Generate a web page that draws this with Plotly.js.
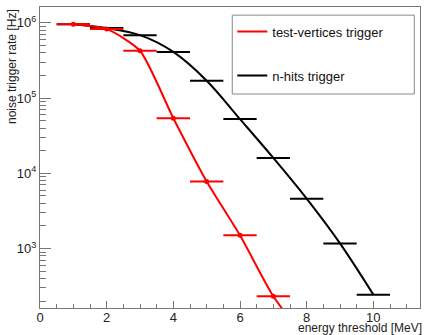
<!DOCTYPE html>
<html><head><meta charset="utf-8">
<script src="https://cdn.plot.ly/plotly-3.0.1.min.js"></script>
<style>body{margin:0;background:#fff}#c{width:424px;height:335px}</style>
</head><body><div id="c"></div>
<script>
// data
const tvX = [1,2,3,4,5,6,7,8];
const tvRate = [9.6e5, 8.3e5, 4.25e5, 5.4e4, 7.8e3, 1.5e3, 232, 60];
const nhX = [1,2,3,4,5,6,7,8,9,10];
const nhRate = [9.6e5, 8.5e5, 6.85e5, 4.1e5, 1.7e5, 5.25e4, 1.6e4, 4.6e3, 1.17e3, 244];
const binHalfWidth = 0.5;
const seriesNames = ["test-vertices trigger", "n-hits trigger"];
const yTickVals = [1e3, 1e4, 1e5, 1e6];
const yTickText = ["10<sup>3</sup>", "10<sup>4</sup>", "10<sup>5</sup>", "10<sup>6</sup>"];

const font = "Liberation Sans, Arial, sans-serif";
const traces = [
  {x: nhX, y: nhRate, mode: 'lines', name: seriesNames[1], showlegend: false,
   line: {color: '#000', width: 2, shape: 'spline', smoothing: 1},
   error_x: {type: 'constant', value: binHalfWidth, width: 0, thickness: 2, color: '#000'}},
  {x: tvX, y: tvRate, mode: 'lines+markers', name: seriesNames[0], showlegend: false,
   line: {color: '#ff0000', width: 2, shape: 'spline', smoothing: 0.6},
   marker: {color: '#ff0000', size: 5},
   error_x: {type: 'constant', value: binHalfWidth, width: 0, thickness: 2, color: '#ff0000'}},
  {x: [null], y: [null], mode: 'lines', name: seriesNames[0], legendgroup: 'a',
   line: {color: '#ff0000', width: 2}},
  {x: [null], y: [null], mode: 'lines', name: seriesNames[1], legendgroup: 'b',
   line: {color: '#000', width: 2}}
];
const layout = {
  width: 424, height: 335,
  margin: {l: 40, r: 4, t: 7, b: 27},
  paper_bgcolor: '#fff', plot_bgcolor: '#fff',
  font: {family: font, size: 12, color: '#222'},
  showlegend: true,
  legend: {x: 0.506, y: 0.968, xanchor: 'left', yanchor: 'top',
    borderwidth: 0, bgcolor: 'rgba(0,0,0,0)',
    font: {family: font, size: 13, color: '#111'},
    traceorder: 'grouped', tracegroupgap: 24},
  shapes: [
    {type: 'rect', xref: 'paper', yref: 'paper', x0: 0.506, x1: 0.985, y0: 0.711, y1: 0.973,
     line: {color: '#888', width: 1}, fillcolor: '#fff', layer: 'above'}
  ],
  xaxis: {range: [0, 11.4], showgrid: false, zeroline: false,
    showline: true, linecolor: '#777', linewidth: 1, mirror: true,
    ticks: 'inside', ticklen: 7, tickcolor: '#777', dtick: 2, tick0: 0,
    ticklabelstandoff: -3,
    minor: {ticks: 'inside', ticklen: 4, dtick: 0.5, tickcolor: '#777'},
    tickfont: {size: 13, color: '#222'}},
  yaxis: {type: 'log', range: [2.21, 6.21], showgrid: false, zeroline: false,
    showline: true, linecolor: '#777', linewidth: 1, mirror: true,
    ticks: 'inside', ticklen: 11, tickcolor: '#777',
    tickmode: 'array', tickvals: yTickVals, ticktext: yTickText,
    minor: {ticks: 'inside', ticklen: 6, dtick: 'D1', tickcolor: '#777'},
    tickfont: {size: 13, color: '#222'}},
  annotations: [
    {text: 'energy threshold [MeV]', xref: 'paper', yref: 'paper', x: 1.01, y: -0.066,
     xanchor: 'right', yanchor: 'middle', showarrow: false, font: {size: 12, color: '#222'}},
    {text: 'noise trigger rate [Hz]', xref: 'paper', yref: 'paper', x: -0.075, y: 1.0,
     xanchor: 'center', yanchor: 'top', textangle: -90, showarrow: false, font: {size: 12, color: '#222'}}
  ]
};
Plotly.newPlot('c', traces, layout, {staticPlot: true});
</script></body></html>
